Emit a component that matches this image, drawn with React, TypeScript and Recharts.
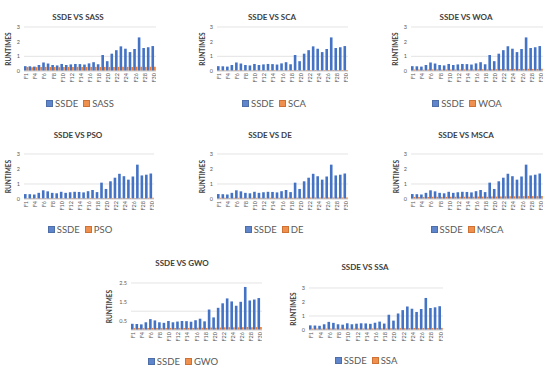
import { BarChart, Bar, XAxis, YAxis, CartesianGrid, Label } from 'recharts';

// CEC2017 functions (F2 is not part of the suite)
const functions = ['F1', 'F3', 'F4', 'F5', 'F6', 'F7', 'F8', 'F9', 'F10', 'F11', 'F12', 'F13', 'F14', 'F15', 'F16',
    'F17', 'F18', 'F19', 'F20', 'F21', 'F22', 'F23', 'F24', 'F25', 'F26', 'F27', 'F28', 'F29', 'F30'];

const ssde = [0.33, 0.32, 0.30, 0.41, 0.58, 0.51, 0.41, 0.38, 0.48, 0.41, 0.45, 0.48, 0.47, 0.44, 0.52,
    0.60, 0.46, 1.09, 0.67, 1.18, 1.42, 1.68, 1.52, 1.29, 1.50, 2.29, 1.57, 1.62, 1.70];
const sass = [0.27, 0.26, 0.26, 0.27, 0.28, 0.27, 0.27, 0.26, 0.27, 0.27, 0.27, 0.28, 0.27, 0.27, 0.28,
    0.28, 0.27, 0.28, 0.27, 0.28, 0.28, 0.29, 0.28, 0.28, 0.29, 0.29, 0.28, 0.29, 0.29];
const sca = [0.04, 0.04, 0.04, 0.05, 0.05, 0.05, 0.04, 0.04, 0.05, 0.05, 0.05, 0.05, 0.05, 0.05, 0.05,
    0.05, 0.05, 0.06, 0.05, 0.06, 0.06, 0.07, 0.06, 0.06, 0.06, 0.07, 0.06, 0.07, 0.07];
const woa = [0.10, 0.10, 0.09, 0.10, 0.11, 0.11, 0.10, 0.10, 0.11, 0.10, 0.11, 0.11, 0.11, 0.11, 0.11,
    0.12, 0.11, 0.12, 0.12, 0.13, 0.13, 0.14, 0.14, 0.13, 0.14, 0.15, 0.14, 0.14, 0.15];
const pso = [0.05, 0.05, 0.05, 0.05, 0.06, 0.06, 0.05, 0.05, 0.06, 0.05, 0.06, 0.06, 0.06, 0.06, 0.06,
    0.06, 0.06, 0.07, 0.06, 0.07, 0.07, 0.08, 0.07, 0.07, 0.07, 0.08, 0.07, 0.08, 0.08];
const de = [0.08, 0.08, 0.07, 0.08, 0.08, 0.08, 0.08, 0.08, 0.08, 0.08, 0.08, 0.08, 0.08, 0.08, 0.09,
    0.09, 0.08, 0.09, 0.09, 0.09, 0.10, 0.10, 0.10, 0.09, 0.10, 0.10, 0.10, 0.10, 0.10];
const msca = [0.14, 0.14, 0.13, 0.14, 0.15, 0.15, 0.14, 0.14, 0.15, 0.15, 0.15, 0.15, 0.15, 0.15, 0.16,
    0.16, 0.15, 0.17, 0.16, 0.17, 0.18, 0.19, 0.18, 0.18, 0.19, 0.20, 0.19, 0.19, 0.20];
const gwo = [0.10, 0.10, 0.10, 0.11, 0.11, 0.11, 0.10, 0.10, 0.11, 0.11, 0.11, 0.11, 0.11, 0.11, 0.12,
    0.12, 0.11, 0.13, 0.12, 0.13, 0.14, 0.15, 0.14, 0.14, 0.15, 0.16, 0.15, 0.15, 0.16];
const ssa = [0.10, 0.10, 0.10, 0.10, 0.11, 0.11, 0.10, 0.10, 0.11, 0.11, 0.11, 0.11, 0.11, 0.11, 0.12,
    0.12, 0.11, 0.12, 0.12, 0.13, 0.13, 0.14, 0.14, 0.13, 0.14, 0.15, 0.14, 0.14, 0.15];

const ticks3 = [0, 1, 2, 3];
const ticks25 = [0, 0.5, 1, 1.5, 2, 2.5];

const BLUE = '#4472C4';
const ORANGE = '#ED7D31';
const TEXT = '#595959';

type PanelProps = {
    name: string;
    other: number[];
    yTicks: number[];
    // layout in page pixels
    chartLeft: number;
    plot: [number, number, number, number]; // left, right, top, bottom
    labelX: number;
    title: [number, number];
    legend: [number, number];
};

const FTick = (props: any) => {
    const { x, y, payload } = props;
    return (
        <text
            x={x}
            y={y}
            transform={`rotate(-90 ${x} ${y})`}
            textAnchor="end"
            dominantBaseline="central"
            fontSize={5.5}
            fill={TEXT}
        >
            {payload.value}
        </text>
    );
};

function Panel({ name, other, yTicks, chartLeft, plot, labelX, title, legend }: PanelProps) {
    const [pl, pr, pt, pb] = plot;
    const topPad = 4;
    const xH = 18;
    const yw = pl - chartLeft;
    const data = functions.map((f, i) => ({ f, SSDE: ssde[i], [name]: other[i] }));
    const series = [
        { key: 'SSDE', color: BLUE, size: 2.6 },
        { key: name, color: ORANGE, size: 1.7 },
    ];

    return (
        <>
            <div
                style={{
                    position: 'absolute',
                    left: title[0] - 60,
                    top: title[1] - 5,
                    width: 120,
                    textAlign: 'center',
                    fontSize: 8,
                    lineHeight: '10px',
                    fontWeight: 700,
                    color: '#404040',
                }}
            >
                SSDE VS {name}
            </div>

            <div style={{ position: 'absolute', left: chartLeft, top: pt - topPad }}>
                <BarChart
                    width={pr - chartLeft}
                    height={pb - pt + topPad + xH}
                    data={data}
                    margin={{ top: topPad, right: 0, left: 0, bottom: 0 }}
                    barGap={0}
                >
                    <CartesianGrid vertical={false} stroke="#D9D9D9" strokeWidth={0.7} />
                    <XAxis
                        dataKey="f"
                        interval={1}
                        tick={<FTick />}
                        tickLine={false}
                        tickSize={0}
                        tickMargin={2}
                        axisLine={{ stroke: '#D9D9D9' }}
                        height={xH}
                    />
                    <YAxis
                        domain={[0, yTicks[yTicks.length - 1]]}
                        ticks={yTicks}
                        width={yw}
                        tick={{ fontSize: 5.5, fill: TEXT }}
                        tickLine={false}
                        tickSize={0}
                        tickMargin={4}
                        axisLine={false}
                    >
                        <Label
                            value="RUNTIMES"
                            angle={-90}
                            position="center"
                            dx={labelX - (chartLeft + yw / 2)}
                            style={{ fontSize: 6.5, fontWeight: 700, fill: '#404040' }}
                        />
                    </YAxis>
                    {series.map((s) => (
                        <Bar key={s.key} dataKey={s.key} fill={s.color} barSize={s.size} isAnimationActive={false} />
                    ))}
                </BarChart>
            </div>

            <div
                style={{
                    position: 'absolute',
                    left: legend[0] - 70,
                    top: legend[1] - 6,
                    width: 140,
                    height: 12,
                    display: 'flex',
                    justifyContent: 'center',
                    alignItems: 'center',
                    gap: 5,
                    fontSize: 9.5,
                    color: TEXT,
                }}
            >
                {series.map((s) => (
                    <span key={s.key} style={{ display: 'flex', alignItems: 'center', gap: 2 }}>
                        <span
                            style={{
                                width: 5,
                                height: 5,
                                background: s.color,
                                border: `0.5px solid ${s.color === BLUE ? '#2F5597' : '#C55A11'}`,
                                opacity: 0.85,
                            }}
                        />
                        {s.key}
                    </span>
                ))}
            </div>
        </>
    );
}

export default function App() {
    return (
        <div
            style={{
                position: 'absolute',
                left: 0,
                top: 0,
                width: 550,
                height: 370,
                background: '#fff',
                fontFamily: 'Lato, "Open Sans", sans-serif',
            }}
        >
            <Panel name="SASS" other={sass} yTicks={ticks3} chartLeft={0} plot={[24, 156, 27, 71]} labelX={9} title={[78, 17]} legend={[80, 103]} />
            <Panel name="SCA" other={sca} yTicks={ticks3} chartLeft={190} plot={[217, 348, 27, 71]} labelX={203} title={[272, 17]} legend={[274, 103]} />
            <Panel name="WOA" other={woa} yTicks={ticks3} chartLeft={380} plot={[411, 543, 27, 71]} labelX={396} title={[466, 17]} legend={[467, 103]} />

            <Panel name="PSO" other={pso} yTicks={ticks3} chartLeft={0} plot={[24, 154, 154, 199]} labelX={9} title={[78, 135]} legend={[80, 229]} />
            <Panel name="DE" other={de} yTicks={ticks3} chartLeft={190} plot={[217, 348, 154, 199]} labelX={203} title={[270, 135]} legend={[274, 229]} />
            <Panel name="MSCA" other={msca} yTicks={ticks3} chartLeft={380} plot={[411, 543, 154, 199]} labelX={397} title={[466, 135]} legend={[467, 229]} />

            <Panel name="GWO" other={gwo} yTicks={ticks25} chartLeft={100} plot={[131, 262, 283, 330]} labelX={110} title={[182, 263]} legend={[183, 361]} />
            <Panel name="SSA" other={ssa} yTicks={ticks3} chartLeft={280} plot={[309, 443, 288, 330]} labelX={294} title={[365, 267]} legend={[366, 360]} />
        </div>
    );
}
